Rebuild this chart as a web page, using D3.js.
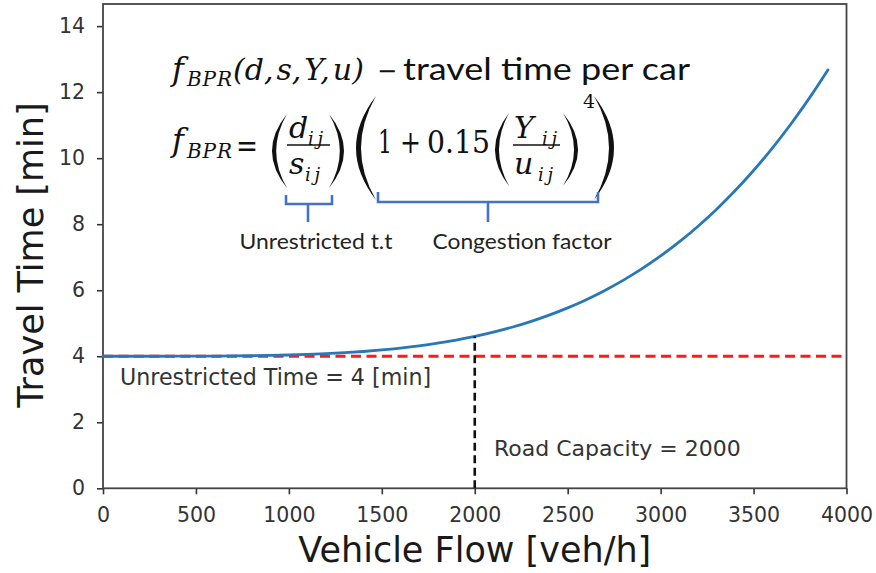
<!DOCTYPE html>
<html>
<head>
<meta charset="utf-8">
<script src="https://cdn.jsdelivr.net/npm/d3@7"></script>
<style>
  html, body { margin: 0; padding: 0; background: #fff; }
  svg { display: block; }
</style>
</head>
<body>
<svg id="chart" width="876" height="573"></svg>
<script>
// ---------------- data ----------------
const flow = [0,100,200,300,400,500,600,700,800,900,1000,1100,1200,1300,1400,1500,1600,1700,1800,1900,
              2000,2100,2200,2300,2400,2500,2600,2700,2800,2900,3000,3100,3200,3300,3400,3500,3600,3700,3800,3900];
const travelTime = [4.000,4.000,4.000,4.000,4.001,4.002,4.005,4.009,4.015,4.025,
                    4.038,4.055,4.078,4.107,4.144,4.190,4.246,4.313,4.394,4.489,
                    4.600,4.729,4.878,5.049,5.244,5.465,5.714,5.993,6.305,6.652,
                    7.038,7.463,7.932,8.447,9.011,9.627,10.299,11.028,11.819,12.675];
const xTicks = [0,500,1000,1500,2000,2500,3000,3500,4000];
const yTicks = [0,2,4,6,8,10,12,14];
const unrestrictedTime = 4;
const roadCapacity = 2000;
const capacityTime = 4.6;
const xLabel = "Vehicle Flow [veh/h]";
const yLabel = "Travel Time [min]";
const hLineLabel = "Unrestricted Time = 4 [min]";
const vLineLabel = "Road Capacity = 2000";

// ---------------- layout ----------------
const svg = d3.select("#chart");
const L = 103, R = 846.5, T = 4, B = 488.3;
const x = d3.scaleLinear().domain([0, 4000]).range([L, R]);
const y = d3.scaleLinear().domain([0, 14.67]).range([B, T]);
const sansFont = "DejaVu Sans, sans-serif";
const tickColor = "#333";

// axes
const xAxis = svg.append("g").attr("transform", `translate(0,${B})`)
  .call(d3.axisBottom(x).tickValues(xTicks).tickSize(6).tickPadding(13).tickFormat(d3.format("d")));
const yAxis = svg.append("g").attr("transform", `translate(${L},0)`)
  .call(d3.axisLeft(y).tickValues(yTicks).tickSize(6).tickPadding(12).tickFormat(d3.format("d")));
[xAxis, yAxis].forEach(g => {
  g.select(".domain").remove();
  g.selectAll(".tick line").attr("stroke", tickColor).attr("stroke-width", 1.6);
  g.selectAll(".tick text").attr("fill", "#333").style("font-family", sansFont).style("font-size", "20.5px");
});

// frame
svg.append("rect").attr("x", L).attr("y", T).attr("width", R - L).attr("height", B - T)
  .attr("fill", "none").attr("stroke", "#444").attr("stroke-width", 1.8);

// red dashed unrestricted time
svg.append("line")
  .attr("x1", x(0)).attr("x2", x(4000)).attr("y1", y(unrestrictedTime)).attr("y2", y(unrestrictedTime))
  .attr("stroke", "#ff1a1a").attr("stroke-width", 2.8).attr("stroke-dasharray", "10,5.5");

// curve
const line = d3.line().x((d, i) => x(flow[i])).y(d => y(d)).curve(d3.curveMonotoneX);
svg.append("path").datum(travelTime).attr("d", line)
  .attr("fill", "none").attr("stroke", "#2878b8").attr("stroke-width", 2.8).attr("stroke-linecap", "round");

// black dashed capacity line
svg.append("line")
  .attr("x1", x(roadCapacity)).attr("x2", x(roadCapacity)).attr("y1", y(0)).attr("y2", y(capacityTime))
  .attr("stroke", "#111").attr("stroke-width", 2.6).attr("stroke-dasharray", "8,4.5");

// annotations
svg.append("text").attr("x", 120).attr("y", 385).text(hLineLabel)
  .attr("fill", "#333").style("font-family", sansFont).style("font-size", "22.2px");
svg.append("text").attr("x", 494).attr("y", 456).text(vLineLabel)
  .attr("fill", "#333").style("font-family", sansFont).style("font-size", "22px");

// axis labels
svg.append("text").attr("x", (L + R) / 2).attr("y", 562).attr("text-anchor", "middle").text(xLabel)
  .attr("fill", "#1a1a1a").style("font-family", sansFont).style("font-size", "35px");
svg.append("text").attr("transform", `translate(43,255) rotate(-90)`).attr("text-anchor", "middle").text(yLabel)
  .attr("fill", "#1a1a1a").style("font-family", sansFont).style("font-size", "35px");

// ---------------- formula ----------------
const mathFont = "DejaVu Serif, serif";
const fm = svg.append("g").attr("fill", "#111");
function mtxt(str, px, py, size, italic, opts = {}) {
  const t = fm.append("text").attr("x", px).attr("y", py).text(str)
    .style("font-family", opts.font || mathFont).style("font-size", size + "px")
    .style("font-style", italic ? "italic" : "normal");
  if (opts.len) t.attr("textLength", opts.len).attr("lengthAdjust", opts.adj || "spacingAndGlyphs");
  if (opts.anchor) t.attr("text-anchor", opts.anchor);
  if (opts.fill) t.attr("fill", opts.fill);
  return t;
}
function paren(xEnd, xBulge, top, bot, thick, dir) {
  // dir = 1 for "(", -1 for ")"
  const mid = (top + bot) / 2;
  const c1 = 2 * xBulge - xEnd;
  const c2 = 2 * (xBulge + dir * thick) - xEnd;
  fm.append("path").attr("d", `M${xEnd},${top} Q${c1},${mid} ${xEnd},${bot} Q${c2},${mid} ${xEnd},${top} Z`)
    .attr("fill", "#111");
}
// line 1
mtxt("f", 172, 80, 32, true);
mtxt("BPR", 187, 86, 20, true, {len: 45, adj: "spacing"});
mtxt("(d,\u200As,\u200AY,\u200Au)", 233, 80, 30, true);
mtxt("\u2212", 377, 79, 24, false);
mtxt("travel time per car", 403, 80, 30, false, {font: "Lato, sans-serif", len: 287});
// line 2
mtxt("f", 172, 151, 32, true);
mtxt("BPR", 187, 158, 20, true, {len: 45, adj: "spacing"});
mtxt("=", 236, 157, 32, false, {len: 22});
paren(287, 272, 114, 188, 4.2, 1);
mtxt("d", 289, 138, 30, true);
mtxt("ij", 308, 145, 18, true, {len: 15, adj: "spacing"});
fm.append("line").attr("x1", 287).attr("x2", 330).attr("y1", 145).attr("y2", 145).attr("stroke", "#111").attr("stroke-width", 1.7);
mtxt("s", 289, 174, 30, true);
mtxt("ij", 305, 181, 18, true, {len: 15, adj: "spacing"});
paren(329, 344, 114, 188, 4.2, -1);
paren(376, 356, 96, 200, 5, 1);
mtxt("1", 378, 153, 32, false, {len: 14});
mtxt("+", 400, 153, 32, false, {len: 21});
mtxt("0.15", 427, 153, 32, false, {len: 63});
paren(509, 495, 113, 186, 4, 1);
mtxt("Y", 514, 138, 30, true);
mtxt("ij", 542, 145, 18, true, {len: 15, adj: "spacing"});
fm.append("line").attr("x1", 513).attr("x2", 560).attr("y1", 145).attr("y2", 145).attr("stroke", "#111").attr("stroke-width", 1.7);
mtxt("u", 514, 174, 30, true);
mtxt("ij", 538, 181, 18, true, {len: 15, adj: "spacing"});
paren(563, 578, 113, 186, 4, -1);
mtxt("4", 583, 108, 19, false);
paren(594, 614, 96, 200, 5, -1);

// braces
const blue = "#4472c4";
const br = svg.append("g").attr("fill", "none").attr("stroke", blue).attr("stroke-width", 2.6);
br.append("path").attr("d", "M286,195 V204 H332 V195 M308,204 V222");
br.append("path").attr("d", "M378,192 V202 H598 V192 M488,202 V222");
mtxt("Unrestricted t.t", 316, 249, 21, false, {font: "Lato, sans-serif", anchor: "middle", len: 153, fill: "#222"});
mtxt("Congestion factor", 522, 249, 21, false, {font: "Lato, sans-serif", anchor: "middle", len: 179, fill: "#222"});
</script>
</body>
</html>
